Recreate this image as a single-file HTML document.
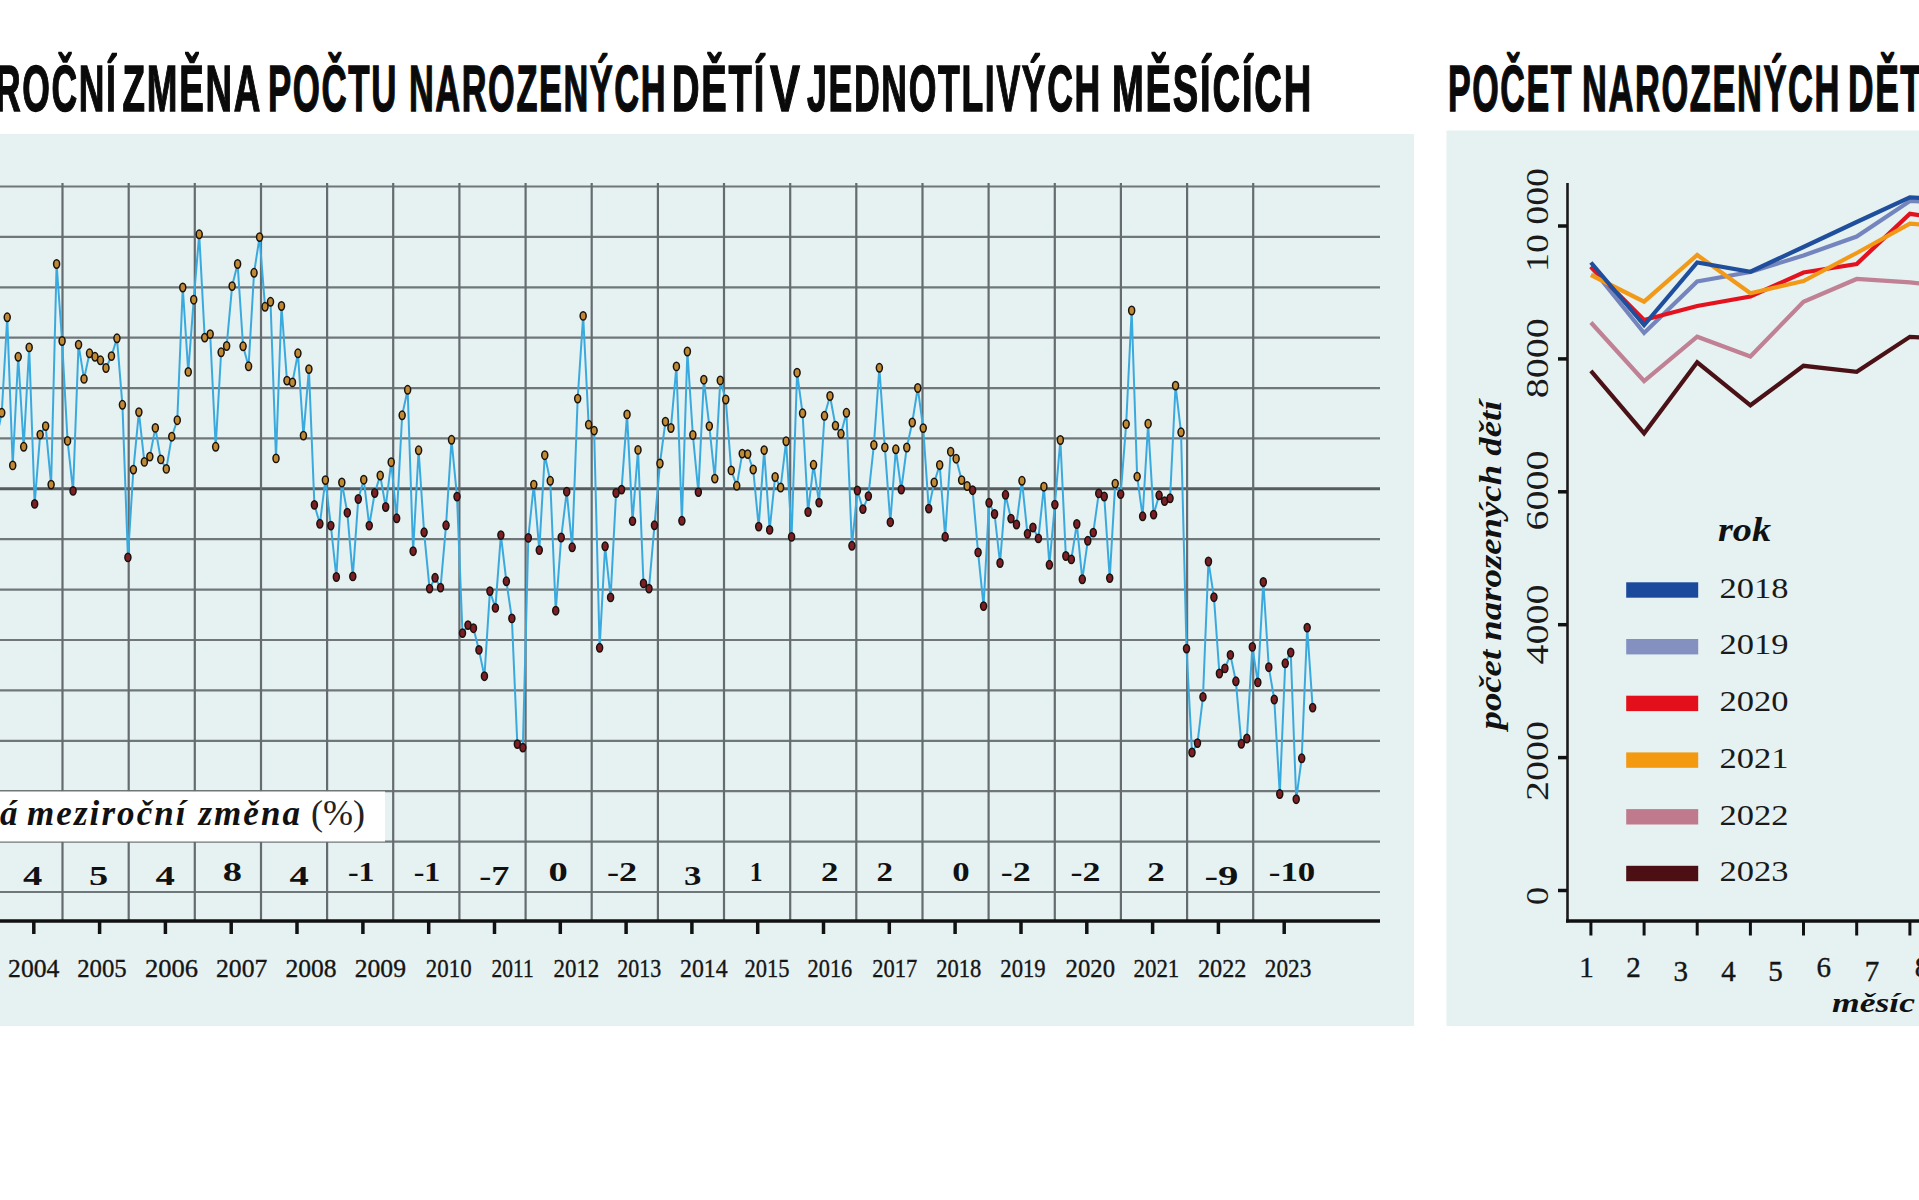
<!DOCTYPE html>
<html><head><meta charset="utf-8"><title>Počet narozených dětí</title>
<style>html,body{margin:0;padding:0;background:#fff;}body{width:1919px;height:1200px;overflow:hidden;font-family:"Liberation Sans",sans-serif;}svg{display:block;}</style>
</head><body>
<svg width="1919" height="1200" viewBox="0 0 1919 1200">
<rect width="1919" height="1200" fill="#ffffff"/>
<rect x="-5" y="134" width="1419" height="892" fill="#e6f1f2"/>
<rect x="1446.5" y="130.5" width="480" height="895.5" fill="#e6f1f2"/>
<line x1="-5" y1="186.5" x2="1380" y2="186.5" stroke="#6f777a" stroke-width="2.2"/><line x1="-5" y1="236.9" x2="1380" y2="236.9" stroke="#6f777a" stroke-width="2.2"/><line x1="-5" y1="287.3" x2="1380" y2="287.3" stroke="#6f777a" stroke-width="2.2"/><line x1="-5" y1="337.7" x2="1380" y2="337.7" stroke="#6f777a" stroke-width="2.2"/><line x1="-5" y1="388.1" x2="1380" y2="388.1" stroke="#6f777a" stroke-width="2.2"/><line x1="-5" y1="438.4" x2="1380" y2="438.4" stroke="#6f777a" stroke-width="2.2"/><line x1="-5" y1="488.8" x2="1380" y2="488.8" stroke="#555b5e" stroke-width="3"/><line x1="-5" y1="539.2" x2="1380" y2="539.2" stroke="#6f777a" stroke-width="2.2"/><line x1="-5" y1="589.6" x2="1380" y2="589.6" stroke="#6f777a" stroke-width="2.2"/><line x1="-5" y1="640.0" x2="1380" y2="640.0" stroke="#6f777a" stroke-width="2.2"/><line x1="-5" y1="690.4" x2="1380" y2="690.4" stroke="#6f777a" stroke-width="2.2"/><line x1="-5" y1="740.8" x2="1380" y2="740.8" stroke="#6f777a" stroke-width="2.2"/><line x1="-5" y1="791.2" x2="1380" y2="791.2" stroke="#6f777a" stroke-width="2.2"/><line x1="-5" y1="841.6" x2="1380" y2="841.6" stroke="#6f777a" stroke-width="2.2"/><line x1="-5" y1="892.0" x2="1380" y2="892.0" stroke="#6f777a" stroke-width="2.2"/><line x1="-3.7" y1="183" x2="-3.7" y2="921" stroke="#646c6f" stroke-width="2.2"/><line x1="62.5" y1="183" x2="62.5" y2="921" stroke="#646c6f" stroke-width="2.2"/><line x1="128.7" y1="183" x2="128.7" y2="921" stroke="#646c6f" stroke-width="2.2"/><line x1="194.8" y1="183" x2="194.8" y2="921" stroke="#646c6f" stroke-width="2.2"/><line x1="261.0" y1="183" x2="261.0" y2="921" stroke="#646c6f" stroke-width="2.2"/><line x1="327.1" y1="183" x2="327.1" y2="921" stroke="#646c6f" stroke-width="2.2"/><line x1="393.2" y1="183" x2="393.2" y2="921" stroke="#646c6f" stroke-width="2.2"/><line x1="459.4" y1="183" x2="459.4" y2="921" stroke="#646c6f" stroke-width="2.2"/><line x1="525.6" y1="183" x2="525.6" y2="921" stroke="#646c6f" stroke-width="2.2"/><line x1="591.7" y1="183" x2="591.7" y2="921" stroke="#646c6f" stroke-width="2.2"/><line x1="657.9" y1="183" x2="657.9" y2="921" stroke="#646c6f" stroke-width="2.2"/><line x1="724.0" y1="183" x2="724.0" y2="921" stroke="#646c6f" stroke-width="2.2"/><line x1="790.2" y1="183" x2="790.2" y2="921" stroke="#646c6f" stroke-width="2.2"/><line x1="856.3" y1="183" x2="856.3" y2="921" stroke="#646c6f" stroke-width="2.2"/><line x1="922.5" y1="183" x2="922.5" y2="921" stroke="#646c6f" stroke-width="2.2"/><line x1="988.6" y1="183" x2="988.6" y2="921" stroke="#646c6f" stroke-width="2.2"/><line x1="1054.8" y1="183" x2="1054.8" y2="921" stroke="#646c6f" stroke-width="2.2"/><line x1="1120.9" y1="183" x2="1120.9" y2="921" stroke="#646c6f" stroke-width="2.2"/><line x1="1187.1" y1="183" x2="1187.1" y2="921" stroke="#646c6f" stroke-width="2.2"/><line x1="1253.2" y1="183" x2="1253.2" y2="921" stroke="#646c6f" stroke-width="2.2"/>
<rect x="-5" y="791.5" width="390" height="50" fill="#ffffff"/>
<text x="17.5" y="825" text-anchor="end" font-family="Liberation Serif" font-weight="bold" font-style="italic" font-size="35" fill="#111">průměrná</text>
<text x="27" y="825" font-family="Liberation Serif" font-weight="bold" font-style="italic" font-size="35" fill="#111" textLength="273" lengthAdjust="spacing">meziroční změna</text>
<text x="311" y="825" font-family="Liberation Serif" font-size="35" fill="#222" textLength="54" lengthAdjust="spacingAndGlyphs">(%)</text>
<line x1="-5" y1="921" x2="1380" y2="921" stroke="#111" stroke-width="3.5"/>
<line x1="33.8" y1="921" x2="33.8" y2="934" stroke="#111" stroke-width="3.5"/><line x1="99.6" y1="921" x2="99.6" y2="934" stroke="#111" stroke-width="3.5"/><line x1="165.4" y1="921" x2="165.4" y2="934" stroke="#111" stroke-width="3.5"/><line x1="231.2" y1="921" x2="231.2" y2="934" stroke="#111" stroke-width="3.5"/><line x1="297.0" y1="921" x2="297.0" y2="934" stroke="#111" stroke-width="3.5"/><line x1="362.9" y1="921" x2="362.9" y2="934" stroke="#111" stroke-width="3.5"/><line x1="428.7" y1="921" x2="428.7" y2="934" stroke="#111" stroke-width="3.5"/><line x1="494.5" y1="921" x2="494.5" y2="934" stroke="#111" stroke-width="3.5"/><line x1="560.3" y1="921" x2="560.3" y2="934" stroke="#111" stroke-width="3.5"/><line x1="626.1" y1="921" x2="626.1" y2="934" stroke="#111" stroke-width="3.5"/><line x1="691.9" y1="921" x2="691.9" y2="934" stroke="#111" stroke-width="3.5"/><line x1="757.7" y1="921" x2="757.7" y2="934" stroke="#111" stroke-width="3.5"/><line x1="823.5" y1="921" x2="823.5" y2="934" stroke="#111" stroke-width="3.5"/><line x1="889.3" y1="921" x2="889.3" y2="934" stroke="#111" stroke-width="3.5"/><line x1="955.1" y1="921" x2="955.1" y2="934" stroke="#111" stroke-width="3.5"/><line x1="1021.0" y1="921" x2="1021.0" y2="934" stroke="#111" stroke-width="3.5"/><line x1="1086.8" y1="921" x2="1086.8" y2="934" stroke="#111" stroke-width="3.5"/><line x1="1152.6" y1="921" x2="1152.6" y2="934" stroke="#111" stroke-width="3.5"/><line x1="1218.4" y1="921" x2="1218.4" y2="934" stroke="#111" stroke-width="3.5"/><line x1="1284.2" y1="921" x2="1284.2" y2="934" stroke="#111" stroke-width="3.5"/>
<text x="23.1" y="884.5" font-family="Liberation Serif" font-weight="bold" font-size="28" fill="#111" textLength="19.3" lengthAdjust="spacingAndGlyphs">4</text><text x="88.9" y="884.5" font-family="Liberation Serif" font-weight="bold" font-size="28" fill="#111" textLength="19.2" lengthAdjust="spacingAndGlyphs">5</text><text x="155.6" y="884.5" font-family="Liberation Serif" font-weight="bold" font-size="28" fill="#111" textLength="19.4" lengthAdjust="spacingAndGlyphs">4</text><text x="222.8" y="881" font-family="Liberation Serif" font-weight="bold" font-size="28" fill="#111" textLength="19.2" lengthAdjust="spacingAndGlyphs">8</text><text x="289.6" y="884.5" font-family="Liberation Serif" font-weight="bold" font-size="28" fill="#111" textLength="19.3" lengthAdjust="spacingAndGlyphs">4</text><text x="347.9" y="881" font-family="Liberation Serif" font-weight="bold" font-size="28" fill="#111" textLength="26.6" lengthAdjust="spacingAndGlyphs">-1</text><text x="413.7" y="881" font-family="Liberation Serif" font-weight="bold" font-size="28" fill="#111" textLength="26.6" lengthAdjust="spacingAndGlyphs">-1</text><text x="479.3" y="884.5" font-family="Liberation Serif" font-weight="bold" font-size="28" fill="#111" textLength="30.2" lengthAdjust="spacingAndGlyphs">-7</text><text x="548.6" y="881" font-family="Liberation Serif" font-weight="bold" font-size="28" fill="#111" textLength="19.3" lengthAdjust="spacingAndGlyphs">0</text><text x="606.9" y="881" font-family="Liberation Serif" font-weight="bold" font-size="28" fill="#111" textLength="30.2" lengthAdjust="spacingAndGlyphs">-2</text><text x="684.1" y="884.5" font-family="Liberation Serif" font-weight="bold" font-size="28" fill="#111" textLength="17.4" lengthAdjust="spacingAndGlyphs">3</text><text x="749.8" y="881" font-family="Liberation Serif" font-weight="bold" font-size="28" fill="#111" textLength="12.8" lengthAdjust="spacingAndGlyphs">1</text><text x="820.9" y="881" font-family="Liberation Serif" font-weight="bold" font-size="28" fill="#111" textLength="17.4" lengthAdjust="spacingAndGlyphs">2</text><text x="876.5" y="881" font-family="Liberation Serif" font-weight="bold" font-size="28" fill="#111" textLength="16.5" lengthAdjust="spacingAndGlyphs">2</text><text x="952.2" y="881" font-family="Liberation Serif" font-weight="bold" font-size="28" fill="#111" textLength="17.4" lengthAdjust="spacingAndGlyphs">0</text><text x="1000.7" y="881" font-family="Liberation Serif" font-weight="bold" font-size="28" fill="#111" textLength="30.0" lengthAdjust="spacingAndGlyphs">-2</text><text x="1070.5" y="881" font-family="Liberation Serif" font-weight="bold" font-size="28" fill="#111" textLength="30.0" lengthAdjust="spacingAndGlyphs">-2</text><text x="1147.2" y="881" font-family="Liberation Serif" font-weight="bold" font-size="28" fill="#111" textLength="17.5" lengthAdjust="spacingAndGlyphs">2</text><text x="1204.5" y="884.5" font-family="Liberation Serif" font-weight="bold" font-size="28" fill="#111" textLength="34.0" lengthAdjust="spacingAndGlyphs">-9</text><text x="1268.8" y="881" font-family="Liberation Serif" font-weight="bold" font-size="28" fill="#111" textLength="46.5" lengthAdjust="spacingAndGlyphs">-10</text>
<text x="8.1" y="977" font-family="Liberation Serif" font-size="25" fill="#151515" stroke="#151515" stroke-width="0.35" textLength="51.3" lengthAdjust="spacingAndGlyphs">2004</text><text x="77.2" y="977" font-family="Liberation Serif" font-size="25" fill="#151515" stroke="#151515" stroke-width="0.35" textLength="49.5" lengthAdjust="spacingAndGlyphs">2005</text><text x="144.9" y="977" font-family="Liberation Serif" font-size="25" fill="#151515" stroke="#151515" stroke-width="0.35" textLength="53.1" lengthAdjust="spacingAndGlyphs">2006</text><text x="216.0" y="977" font-family="Liberation Serif" font-size="25" fill="#151515" stroke="#151515" stroke-width="0.35" textLength="51.3" lengthAdjust="spacingAndGlyphs">2007</text><text x="285.4" y="977" font-family="Liberation Serif" font-size="25" fill="#151515" stroke="#151515" stroke-width="0.35" textLength="51.2" lengthAdjust="spacingAndGlyphs">2008</text><text x="354.7" y="977" font-family="Liberation Serif" font-size="25" fill="#151515" stroke="#151515" stroke-width="0.35" textLength="51.3" lengthAdjust="spacingAndGlyphs">2009</text><text x="425.8" y="977" font-family="Liberation Serif" font-size="25" fill="#151515" stroke="#151515" stroke-width="0.35" textLength="45.8" lengthAdjust="spacingAndGlyphs">2010</text><text x="491.6" y="977" font-family="Liberation Serif" font-size="25" fill="#151515" stroke="#151515" stroke-width="0.35" textLength="42.1" lengthAdjust="spacingAndGlyphs">2011</text><text x="553.5" y="977" font-family="Liberation Serif" font-size="25" fill="#151515" stroke="#151515" stroke-width="0.35" textLength="45.8" lengthAdjust="spacingAndGlyphs">2012</text><text x="617.3" y="977" font-family="Liberation Serif" font-size="25" fill="#151515" stroke="#151515" stroke-width="0.35" textLength="43.9" lengthAdjust="spacingAndGlyphs">2013</text><text x="680.0" y="977" font-family="Liberation Serif" font-size="25" fill="#151515" stroke="#151515" stroke-width="0.35" textLength="47.6" lengthAdjust="spacingAndGlyphs">2014</text><text x="744.6" y="977" font-family="Liberation Serif" font-size="25" fill="#151515" stroke="#151515" stroke-width="0.35" textLength="45.0" lengthAdjust="spacingAndGlyphs">2015</text><text x="807.6" y="977" font-family="Liberation Serif" font-size="25" fill="#151515" stroke="#151515" stroke-width="0.35" textLength="44.7" lengthAdjust="spacingAndGlyphs">2016</text><text x="872.3" y="977" font-family="Liberation Serif" font-size="25" fill="#151515" stroke="#151515" stroke-width="0.35" textLength="45.0" lengthAdjust="spacingAndGlyphs">2017</text><text x="936.2" y="977" font-family="Liberation Serif" font-size="25" fill="#151515" stroke="#151515" stroke-width="0.35" textLength="45.1" lengthAdjust="spacingAndGlyphs">2018</text><text x="1000.3" y="977" font-family="Liberation Serif" font-size="25" fill="#151515" stroke="#151515" stroke-width="0.35" textLength="45.4" lengthAdjust="spacingAndGlyphs">2019</text><text x="1065.6" y="977" font-family="Liberation Serif" font-size="25" fill="#151515" stroke="#151515" stroke-width="0.35" textLength="49.4" lengthAdjust="spacingAndGlyphs">2020</text><text x="1133.5" y="977" font-family="Liberation Serif" font-size="25" fill="#151515" stroke="#151515" stroke-width="0.35" textLength="45.8" lengthAdjust="spacingAndGlyphs">2021</text><text x="1198.0" y="977" font-family="Liberation Serif" font-size="25" fill="#151515" stroke="#151515" stroke-width="0.35" textLength="48.4" lengthAdjust="spacingAndGlyphs">2022</text><text x="1264.8" y="977" font-family="Liberation Serif" font-size="25" fill="#151515" stroke="#151515" stroke-width="0.35" textLength="46.5" lengthAdjust="spacingAndGlyphs">2023</text>
<polyline points="-3.7,440.0 1.75,412.8 7.24,317.3 12.72,465.4 18.21,356.8 23.69,446.8 29.18,347.4 34.66,503.9 40.15,434.6 45.63,426.1 51.12,484.6 56.60,264.0 62.09,341.0 67.57,440.9 73.06,490.9 78.54,344.6 84.03,378.9 89.51,353.3 95.00,356.8 100.48,360.3 105.97,368.0 111.45,356.1 116.94,338.3 122.42,404.8 127.91,557.4 133.39,469.6 138.88,412.1 144.36,461.9 149.84,456.6 155.33,427.9 160.81,459.4 166.30,468.9 171.78,436.7 177.27,420.2 182.76,287.5 188.24,371.9 193.73,299.7 199.21,234.3 204.70,337.6 210.18,334.1 215.67,446.8 221.15,352.3 226.64,346.0 232.12,286.1 237.61,264.0 243.09,346.3 248.58,366.3 254.06,272.8 259.55,237.1 265.03,306.8 270.52,301.8 276.00,458.4 281.49,306.0 286.97,380.6 292.46,382.4 297.94,353.3 303.43,435.6 308.91,369.1 314.40,504.9 319.88,523.8 325.37,480.1 330.85,525.6 336.34,577.0 341.82,482.5 347.31,512.7 352.79,576.4 358.28,499.0 363.76,479.7 369.25,525.6 374.73,493.0 380.22,475.5 385.70,507.0 391.19,462.2 396.67,518.3 402.16,415.3 407.64,389.8 413.12,551.2 418.61,450.3 424.10,532.3 429.58,588.6 435.06,577.8 440.55,587.6 446.04,525.3 451.52,439.8 457.01,496.6 462.49,633.1 467.98,625.1 473.46,628.2 478.95,649.9 484.43,676.2 489.92,591.1 495.40,607.9 500.89,535.1 506.37,581.3 511.86,618.4 517.34,744.1 522.83,747.6 528.31,537.9 533.80,484.6 539.28,550.1 544.76,455.2 550.25,480.8 555.74,610.7 561.22,537.5 566.71,491.7 572.19,547.3 577.68,398.6 583.16,315.9 588.64,424.6 594.13,430.6 599.62,647.8 605.10,546.3 610.59,597.4 616.07,493.0 621.56,489.6 627.04,414.4 632.53,521.1 638.01,449.9 643.50,583.4 648.98,588.6 654.47,525.3 659.95,463.5 665.44,421.6 670.92,428.0 676.41,366.4 681.89,520.8 687.38,351.5 692.86,435.0 698.35,492.1 703.83,379.7 709.32,426.1 714.80,478.6 720.29,380.4 725.77,399.5 731.25,470.4 736.74,485.8 742.23,453.6 747.71,454.1 753.20,469.5 758.68,526.6 764.17,450.1 769.65,529.9 775.13,477.0 780.62,487.5 786.11,441.3 791.59,536.9 797.08,372.7 802.56,413.3 808.05,512.0 813.53,464.8 819.02,502.6 824.50,415.8 829.99,396.0 835.47,425.6 840.96,433.8 846.44,412.8 851.93,545.8 857.41,490.5 862.90,509.1 868.38,496.1 873.87,445.0 879.35,367.8 884.84,447.4 890.32,522.2 895.81,449.3 901.29,489.5 906.78,447.5 912.26,422.5 917.75,388.0 923.23,428.1 928.72,508.6 934.20,482.5 939.69,465.0 945.17,536.8 950.66,451.7 956.14,458.7 961.62,480.1 967.11,486.0 972.60,490.2 978.08,552.4 983.57,606.1 989.05,502.8 994.54,514.0 1000.02,563.0 1005.51,494.8 1010.99,518.6 1016.48,524.5 1021.96,480.8 1027.45,533.8 1032.93,527.5 1038.41,538.4 1043.90,486.7 1049.38,564.8 1054.87,504.6 1060.36,440.0 1065.84,556.0 1071.33,559.4 1076.81,524.0 1082.30,579.3 1087.78,540.8 1093.27,532.6 1098.75,493.4 1104.24,496.5 1109.72,578.1 1115.21,483.6 1120.69,494.1 1126.17,424.1 1131.66,310.5 1137.14,476.6 1142.63,516.3 1148.12,423.7 1153.60,514.6 1159.09,495.3 1164.57,501.1 1170.06,498.3 1175.54,385.6 1181.03,432.3 1186.51,648.6 1192.00,752.5 1197.48,743.1 1202.97,696.9 1208.45,561.5 1213.94,597.2 1219.42,673.5 1224.90,668.4 1230.39,654.9 1235.88,681.3 1241.36,743.8 1246.85,738.5 1252.33,646.9 1257.82,682.4 1263.30,582.0 1268.79,667.2 1274.27,699.5 1279.76,794.0 1285.24,663.3 1290.73,652.5 1296.21,799.2 1301.70,758.3 1307.18,627.6 1312.66,707.6" fill="none" stroke="#3aaade" stroke-width="2.0" stroke-linejoin="round"/>
<ellipse cx="1.75" cy="412.8" rx="3.0" ry="4.2" fill="#c08a35" stroke="#1a120c" stroke-width="1.5"/><ellipse cx="7.24" cy="317.3" rx="3.0" ry="4.2" fill="#c08a35" stroke="#1a120c" stroke-width="1.5"/><ellipse cx="12.72" cy="465.4" rx="3.0" ry="4.2" fill="#c08a35" stroke="#1a120c" stroke-width="1.5"/><ellipse cx="18.21" cy="356.8" rx="3.0" ry="4.2" fill="#c08a35" stroke="#1a120c" stroke-width="1.5"/><ellipse cx="23.69" cy="446.8" rx="3.0" ry="4.2" fill="#c08a35" stroke="#1a120c" stroke-width="1.5"/><ellipse cx="29.18" cy="347.4" rx="3.0" ry="4.2" fill="#c08a35" stroke="#1a120c" stroke-width="1.5"/><ellipse cx="34.66" cy="503.9" rx="3.0" ry="4.2" fill="#7d1f27" stroke="#1a120c" stroke-width="1.5"/><ellipse cx="40.15" cy="434.6" rx="3.0" ry="4.2" fill="#c08a35" stroke="#1a120c" stroke-width="1.5"/><ellipse cx="45.63" cy="426.1" rx="3.0" ry="4.2" fill="#c08a35" stroke="#1a120c" stroke-width="1.5"/><ellipse cx="51.12" cy="484.6" rx="3.0" ry="4.2" fill="#c08a35" stroke="#1a120c" stroke-width="1.5"/><ellipse cx="56.60" cy="264.0" rx="3.0" ry="4.2" fill="#c08a35" stroke="#1a120c" stroke-width="1.5"/><ellipse cx="62.09" cy="341.0" rx="3.0" ry="4.2" fill="#c08a35" stroke="#1a120c" stroke-width="1.5"/><ellipse cx="67.57" cy="440.9" rx="3.0" ry="4.2" fill="#c08a35" stroke="#1a120c" stroke-width="1.5"/><ellipse cx="73.06" cy="490.9" rx="3.0" ry="4.2" fill="#7d1f27" stroke="#1a120c" stroke-width="1.5"/><ellipse cx="78.54" cy="344.6" rx="3.0" ry="4.2" fill="#c08a35" stroke="#1a120c" stroke-width="1.5"/><ellipse cx="84.03" cy="378.9" rx="3.0" ry="4.2" fill="#c08a35" stroke="#1a120c" stroke-width="1.5"/><ellipse cx="89.51" cy="353.3" rx="3.0" ry="4.2" fill="#c08a35" stroke="#1a120c" stroke-width="1.5"/><ellipse cx="95.00" cy="356.8" rx="3.0" ry="4.2" fill="#c08a35" stroke="#1a120c" stroke-width="1.5"/><ellipse cx="100.48" cy="360.3" rx="3.0" ry="4.2" fill="#c08a35" stroke="#1a120c" stroke-width="1.5"/><ellipse cx="105.97" cy="368.0" rx="3.0" ry="4.2" fill="#c08a35" stroke="#1a120c" stroke-width="1.5"/><ellipse cx="111.45" cy="356.1" rx="3.0" ry="4.2" fill="#c08a35" stroke="#1a120c" stroke-width="1.5"/><ellipse cx="116.94" cy="338.3" rx="3.0" ry="4.2" fill="#c08a35" stroke="#1a120c" stroke-width="1.5"/><ellipse cx="122.42" cy="404.8" rx="3.0" ry="4.2" fill="#c08a35" stroke="#1a120c" stroke-width="1.5"/><ellipse cx="127.91" cy="557.4" rx="3.0" ry="4.2" fill="#7d1f27" stroke="#1a120c" stroke-width="1.5"/><ellipse cx="133.39" cy="469.6" rx="3.0" ry="4.2" fill="#c08a35" stroke="#1a120c" stroke-width="1.5"/><ellipse cx="138.88" cy="412.1" rx="3.0" ry="4.2" fill="#c08a35" stroke="#1a120c" stroke-width="1.5"/><ellipse cx="144.36" cy="461.9" rx="3.0" ry="4.2" fill="#c08a35" stroke="#1a120c" stroke-width="1.5"/><ellipse cx="149.84" cy="456.6" rx="3.0" ry="4.2" fill="#c08a35" stroke="#1a120c" stroke-width="1.5"/><ellipse cx="155.33" cy="427.9" rx="3.0" ry="4.2" fill="#c08a35" stroke="#1a120c" stroke-width="1.5"/><ellipse cx="160.81" cy="459.4" rx="3.0" ry="4.2" fill="#c08a35" stroke="#1a120c" stroke-width="1.5"/><ellipse cx="166.30" cy="468.9" rx="3.0" ry="4.2" fill="#c08a35" stroke="#1a120c" stroke-width="1.5"/><ellipse cx="171.78" cy="436.7" rx="3.0" ry="4.2" fill="#c08a35" stroke="#1a120c" stroke-width="1.5"/><ellipse cx="177.27" cy="420.2" rx="3.0" ry="4.2" fill="#c08a35" stroke="#1a120c" stroke-width="1.5"/><ellipse cx="182.76" cy="287.5" rx="3.0" ry="4.2" fill="#c08a35" stroke="#1a120c" stroke-width="1.5"/><ellipse cx="188.24" cy="371.9" rx="3.0" ry="4.2" fill="#c08a35" stroke="#1a120c" stroke-width="1.5"/><ellipse cx="193.73" cy="299.7" rx="3.0" ry="4.2" fill="#c08a35" stroke="#1a120c" stroke-width="1.5"/><ellipse cx="199.21" cy="234.3" rx="3.0" ry="4.2" fill="#c08a35" stroke="#1a120c" stroke-width="1.5"/><ellipse cx="204.70" cy="337.6" rx="3.0" ry="4.2" fill="#c08a35" stroke="#1a120c" stroke-width="1.5"/><ellipse cx="210.18" cy="334.1" rx="3.0" ry="4.2" fill="#c08a35" stroke="#1a120c" stroke-width="1.5"/><ellipse cx="215.67" cy="446.8" rx="3.0" ry="4.2" fill="#c08a35" stroke="#1a120c" stroke-width="1.5"/><ellipse cx="221.15" cy="352.3" rx="3.0" ry="4.2" fill="#c08a35" stroke="#1a120c" stroke-width="1.5"/><ellipse cx="226.64" cy="346.0" rx="3.0" ry="4.2" fill="#c08a35" stroke="#1a120c" stroke-width="1.5"/><ellipse cx="232.12" cy="286.1" rx="3.0" ry="4.2" fill="#c08a35" stroke="#1a120c" stroke-width="1.5"/><ellipse cx="237.61" cy="264.0" rx="3.0" ry="4.2" fill="#c08a35" stroke="#1a120c" stroke-width="1.5"/><ellipse cx="243.09" cy="346.3" rx="3.0" ry="4.2" fill="#c08a35" stroke="#1a120c" stroke-width="1.5"/><ellipse cx="248.58" cy="366.3" rx="3.0" ry="4.2" fill="#c08a35" stroke="#1a120c" stroke-width="1.5"/><ellipse cx="254.06" cy="272.8" rx="3.0" ry="4.2" fill="#c08a35" stroke="#1a120c" stroke-width="1.5"/><ellipse cx="259.55" cy="237.1" rx="3.0" ry="4.2" fill="#c08a35" stroke="#1a120c" stroke-width="1.5"/><ellipse cx="265.03" cy="306.8" rx="3.0" ry="4.2" fill="#c08a35" stroke="#1a120c" stroke-width="1.5"/><ellipse cx="270.52" cy="301.8" rx="3.0" ry="4.2" fill="#c08a35" stroke="#1a120c" stroke-width="1.5"/><ellipse cx="276.00" cy="458.4" rx="3.0" ry="4.2" fill="#c08a35" stroke="#1a120c" stroke-width="1.5"/><ellipse cx="281.49" cy="306.0" rx="3.0" ry="4.2" fill="#c08a35" stroke="#1a120c" stroke-width="1.5"/><ellipse cx="286.97" cy="380.6" rx="3.0" ry="4.2" fill="#c08a35" stroke="#1a120c" stroke-width="1.5"/><ellipse cx="292.46" cy="382.4" rx="3.0" ry="4.2" fill="#c08a35" stroke="#1a120c" stroke-width="1.5"/><ellipse cx="297.94" cy="353.3" rx="3.0" ry="4.2" fill="#c08a35" stroke="#1a120c" stroke-width="1.5"/><ellipse cx="303.43" cy="435.6" rx="3.0" ry="4.2" fill="#c08a35" stroke="#1a120c" stroke-width="1.5"/><ellipse cx="308.91" cy="369.1" rx="3.0" ry="4.2" fill="#c08a35" stroke="#1a120c" stroke-width="1.5"/><ellipse cx="314.40" cy="504.9" rx="3.0" ry="4.2" fill="#7d1f27" stroke="#1a120c" stroke-width="1.5"/><ellipse cx="319.88" cy="523.8" rx="3.0" ry="4.2" fill="#7d1f27" stroke="#1a120c" stroke-width="1.5"/><ellipse cx="325.37" cy="480.1" rx="3.0" ry="4.2" fill="#c08a35" stroke="#1a120c" stroke-width="1.5"/><ellipse cx="330.85" cy="525.6" rx="3.0" ry="4.2" fill="#7d1f27" stroke="#1a120c" stroke-width="1.5"/><ellipse cx="336.34" cy="577.0" rx="3.0" ry="4.2" fill="#7d1f27" stroke="#1a120c" stroke-width="1.5"/><ellipse cx="341.82" cy="482.5" rx="3.0" ry="4.2" fill="#c08a35" stroke="#1a120c" stroke-width="1.5"/><ellipse cx="347.31" cy="512.7" rx="3.0" ry="4.2" fill="#7d1f27" stroke="#1a120c" stroke-width="1.5"/><ellipse cx="352.79" cy="576.4" rx="3.0" ry="4.2" fill="#7d1f27" stroke="#1a120c" stroke-width="1.5"/><ellipse cx="358.28" cy="499.0" rx="3.0" ry="4.2" fill="#7d1f27" stroke="#1a120c" stroke-width="1.5"/><ellipse cx="363.76" cy="479.7" rx="3.0" ry="4.2" fill="#c08a35" stroke="#1a120c" stroke-width="1.5"/><ellipse cx="369.25" cy="525.6" rx="3.0" ry="4.2" fill="#7d1f27" stroke="#1a120c" stroke-width="1.5"/><ellipse cx="374.73" cy="493.0" rx="3.0" ry="4.2" fill="#7d1f27" stroke="#1a120c" stroke-width="1.5"/><ellipse cx="380.22" cy="475.5" rx="3.0" ry="4.2" fill="#c08a35" stroke="#1a120c" stroke-width="1.5"/><ellipse cx="385.70" cy="507.0" rx="3.0" ry="4.2" fill="#7d1f27" stroke="#1a120c" stroke-width="1.5"/><ellipse cx="391.19" cy="462.2" rx="3.0" ry="4.2" fill="#c08a35" stroke="#1a120c" stroke-width="1.5"/><ellipse cx="396.67" cy="518.3" rx="3.0" ry="4.2" fill="#7d1f27" stroke="#1a120c" stroke-width="1.5"/><ellipse cx="402.16" cy="415.3" rx="3.0" ry="4.2" fill="#c08a35" stroke="#1a120c" stroke-width="1.5"/><ellipse cx="407.64" cy="389.8" rx="3.0" ry="4.2" fill="#c08a35" stroke="#1a120c" stroke-width="1.5"/><ellipse cx="413.12" cy="551.2" rx="3.0" ry="4.2" fill="#7d1f27" stroke="#1a120c" stroke-width="1.5"/><ellipse cx="418.61" cy="450.3" rx="3.0" ry="4.2" fill="#c08a35" stroke="#1a120c" stroke-width="1.5"/><ellipse cx="424.10" cy="532.3" rx="3.0" ry="4.2" fill="#7d1f27" stroke="#1a120c" stroke-width="1.5"/><ellipse cx="429.58" cy="588.6" rx="3.0" ry="4.2" fill="#7d1f27" stroke="#1a120c" stroke-width="1.5"/><ellipse cx="435.06" cy="577.8" rx="3.0" ry="4.2" fill="#7d1f27" stroke="#1a120c" stroke-width="1.5"/><ellipse cx="440.55" cy="587.6" rx="3.0" ry="4.2" fill="#7d1f27" stroke="#1a120c" stroke-width="1.5"/><ellipse cx="446.04" cy="525.3" rx="3.0" ry="4.2" fill="#7d1f27" stroke="#1a120c" stroke-width="1.5"/><ellipse cx="451.52" cy="439.8" rx="3.0" ry="4.2" fill="#c08a35" stroke="#1a120c" stroke-width="1.5"/><ellipse cx="457.01" cy="496.6" rx="3.0" ry="4.2" fill="#7d1f27" stroke="#1a120c" stroke-width="1.5"/><ellipse cx="462.49" cy="633.1" rx="3.0" ry="4.2" fill="#7d1f27" stroke="#1a120c" stroke-width="1.5"/><ellipse cx="467.98" cy="625.1" rx="3.0" ry="4.2" fill="#7d1f27" stroke="#1a120c" stroke-width="1.5"/><ellipse cx="473.46" cy="628.2" rx="3.0" ry="4.2" fill="#7d1f27" stroke="#1a120c" stroke-width="1.5"/><ellipse cx="478.95" cy="649.9" rx="3.0" ry="4.2" fill="#7d1f27" stroke="#1a120c" stroke-width="1.5"/><ellipse cx="484.43" cy="676.2" rx="3.0" ry="4.2" fill="#7d1f27" stroke="#1a120c" stroke-width="1.5"/><ellipse cx="489.92" cy="591.1" rx="3.0" ry="4.2" fill="#7d1f27" stroke="#1a120c" stroke-width="1.5"/><ellipse cx="495.40" cy="607.9" rx="3.0" ry="4.2" fill="#7d1f27" stroke="#1a120c" stroke-width="1.5"/><ellipse cx="500.89" cy="535.1" rx="3.0" ry="4.2" fill="#7d1f27" stroke="#1a120c" stroke-width="1.5"/><ellipse cx="506.37" cy="581.3" rx="3.0" ry="4.2" fill="#7d1f27" stroke="#1a120c" stroke-width="1.5"/><ellipse cx="511.86" cy="618.4" rx="3.0" ry="4.2" fill="#7d1f27" stroke="#1a120c" stroke-width="1.5"/><ellipse cx="517.34" cy="744.1" rx="3.0" ry="4.2" fill="#7d1f27" stroke="#1a120c" stroke-width="1.5"/><ellipse cx="522.83" cy="747.6" rx="3.0" ry="4.2" fill="#7d1f27" stroke="#1a120c" stroke-width="1.5"/><ellipse cx="528.31" cy="537.9" rx="3.0" ry="4.2" fill="#7d1f27" stroke="#1a120c" stroke-width="1.5"/><ellipse cx="533.80" cy="484.6" rx="3.0" ry="4.2" fill="#c08a35" stroke="#1a120c" stroke-width="1.5"/><ellipse cx="539.28" cy="550.1" rx="3.0" ry="4.2" fill="#7d1f27" stroke="#1a120c" stroke-width="1.5"/><ellipse cx="544.76" cy="455.2" rx="3.0" ry="4.2" fill="#c08a35" stroke="#1a120c" stroke-width="1.5"/><ellipse cx="550.25" cy="480.8" rx="3.0" ry="4.2" fill="#c08a35" stroke="#1a120c" stroke-width="1.5"/><ellipse cx="555.74" cy="610.7" rx="3.0" ry="4.2" fill="#7d1f27" stroke="#1a120c" stroke-width="1.5"/><ellipse cx="561.22" cy="537.5" rx="3.0" ry="4.2" fill="#7d1f27" stroke="#1a120c" stroke-width="1.5"/><ellipse cx="566.71" cy="491.7" rx="3.0" ry="4.2" fill="#7d1f27" stroke="#1a120c" stroke-width="1.5"/><ellipse cx="572.19" cy="547.3" rx="3.0" ry="4.2" fill="#7d1f27" stroke="#1a120c" stroke-width="1.5"/><ellipse cx="577.68" cy="398.6" rx="3.0" ry="4.2" fill="#c08a35" stroke="#1a120c" stroke-width="1.5"/><ellipse cx="583.16" cy="315.9" rx="3.0" ry="4.2" fill="#c08a35" stroke="#1a120c" stroke-width="1.5"/><ellipse cx="588.64" cy="424.6" rx="3.0" ry="4.2" fill="#c08a35" stroke="#1a120c" stroke-width="1.5"/><ellipse cx="594.13" cy="430.6" rx="3.0" ry="4.2" fill="#c08a35" stroke="#1a120c" stroke-width="1.5"/><ellipse cx="599.62" cy="647.8" rx="3.0" ry="4.2" fill="#7d1f27" stroke="#1a120c" stroke-width="1.5"/><ellipse cx="605.10" cy="546.3" rx="3.0" ry="4.2" fill="#7d1f27" stroke="#1a120c" stroke-width="1.5"/><ellipse cx="610.59" cy="597.4" rx="3.0" ry="4.2" fill="#7d1f27" stroke="#1a120c" stroke-width="1.5"/><ellipse cx="616.07" cy="493.0" rx="3.0" ry="4.2" fill="#7d1f27" stroke="#1a120c" stroke-width="1.5"/><ellipse cx="621.56" cy="489.6" rx="3.0" ry="4.2" fill="#7d1f27" stroke="#1a120c" stroke-width="1.5"/><ellipse cx="627.04" cy="414.4" rx="3.0" ry="4.2" fill="#c08a35" stroke="#1a120c" stroke-width="1.5"/><ellipse cx="632.53" cy="521.1" rx="3.0" ry="4.2" fill="#7d1f27" stroke="#1a120c" stroke-width="1.5"/><ellipse cx="638.01" cy="449.9" rx="3.0" ry="4.2" fill="#c08a35" stroke="#1a120c" stroke-width="1.5"/><ellipse cx="643.50" cy="583.4" rx="3.0" ry="4.2" fill="#7d1f27" stroke="#1a120c" stroke-width="1.5"/><ellipse cx="648.98" cy="588.6" rx="3.0" ry="4.2" fill="#7d1f27" stroke="#1a120c" stroke-width="1.5"/><ellipse cx="654.47" cy="525.3" rx="3.0" ry="4.2" fill="#7d1f27" stroke="#1a120c" stroke-width="1.5"/><ellipse cx="659.95" cy="463.5" rx="3.0" ry="4.2" fill="#c08a35" stroke="#1a120c" stroke-width="1.5"/><ellipse cx="665.44" cy="421.6" rx="3.0" ry="4.2" fill="#c08a35" stroke="#1a120c" stroke-width="1.5"/><ellipse cx="670.92" cy="428.0" rx="3.0" ry="4.2" fill="#c08a35" stroke="#1a120c" stroke-width="1.5"/><ellipse cx="676.41" cy="366.4" rx="3.0" ry="4.2" fill="#c08a35" stroke="#1a120c" stroke-width="1.5"/><ellipse cx="681.89" cy="520.8" rx="3.0" ry="4.2" fill="#7d1f27" stroke="#1a120c" stroke-width="1.5"/><ellipse cx="687.38" cy="351.5" rx="3.0" ry="4.2" fill="#c08a35" stroke="#1a120c" stroke-width="1.5"/><ellipse cx="692.86" cy="435.0" rx="3.0" ry="4.2" fill="#c08a35" stroke="#1a120c" stroke-width="1.5"/><ellipse cx="698.35" cy="492.1" rx="3.0" ry="4.2" fill="#7d1f27" stroke="#1a120c" stroke-width="1.5"/><ellipse cx="703.83" cy="379.7" rx="3.0" ry="4.2" fill="#c08a35" stroke="#1a120c" stroke-width="1.5"/><ellipse cx="709.32" cy="426.1" rx="3.0" ry="4.2" fill="#c08a35" stroke="#1a120c" stroke-width="1.5"/><ellipse cx="714.80" cy="478.6" rx="3.0" ry="4.2" fill="#c08a35" stroke="#1a120c" stroke-width="1.5"/><ellipse cx="720.29" cy="380.4" rx="3.0" ry="4.2" fill="#c08a35" stroke="#1a120c" stroke-width="1.5"/><ellipse cx="725.77" cy="399.5" rx="3.0" ry="4.2" fill="#c08a35" stroke="#1a120c" stroke-width="1.5"/><ellipse cx="731.25" cy="470.4" rx="3.0" ry="4.2" fill="#c08a35" stroke="#1a120c" stroke-width="1.5"/><ellipse cx="736.74" cy="485.8" rx="3.0" ry="4.2" fill="#c08a35" stroke="#1a120c" stroke-width="1.5"/><ellipse cx="742.23" cy="453.6" rx="3.0" ry="4.2" fill="#c08a35" stroke="#1a120c" stroke-width="1.5"/><ellipse cx="747.71" cy="454.1" rx="3.0" ry="4.2" fill="#c08a35" stroke="#1a120c" stroke-width="1.5"/><ellipse cx="753.20" cy="469.5" rx="3.0" ry="4.2" fill="#c08a35" stroke="#1a120c" stroke-width="1.5"/><ellipse cx="758.68" cy="526.6" rx="3.0" ry="4.2" fill="#7d1f27" stroke="#1a120c" stroke-width="1.5"/><ellipse cx="764.17" cy="450.1" rx="3.0" ry="4.2" fill="#c08a35" stroke="#1a120c" stroke-width="1.5"/><ellipse cx="769.65" cy="529.9" rx="3.0" ry="4.2" fill="#7d1f27" stroke="#1a120c" stroke-width="1.5"/><ellipse cx="775.13" cy="477.0" rx="3.0" ry="4.2" fill="#c08a35" stroke="#1a120c" stroke-width="1.5"/><ellipse cx="780.62" cy="487.5" rx="3.0" ry="4.2" fill="#c08a35" stroke="#1a120c" stroke-width="1.5"/><ellipse cx="786.11" cy="441.3" rx="3.0" ry="4.2" fill="#c08a35" stroke="#1a120c" stroke-width="1.5"/><ellipse cx="791.59" cy="536.9" rx="3.0" ry="4.2" fill="#7d1f27" stroke="#1a120c" stroke-width="1.5"/><ellipse cx="797.08" cy="372.7" rx="3.0" ry="4.2" fill="#c08a35" stroke="#1a120c" stroke-width="1.5"/><ellipse cx="802.56" cy="413.3" rx="3.0" ry="4.2" fill="#c08a35" stroke="#1a120c" stroke-width="1.5"/><ellipse cx="808.05" cy="512.0" rx="3.0" ry="4.2" fill="#7d1f27" stroke="#1a120c" stroke-width="1.5"/><ellipse cx="813.53" cy="464.8" rx="3.0" ry="4.2" fill="#c08a35" stroke="#1a120c" stroke-width="1.5"/><ellipse cx="819.02" cy="502.6" rx="3.0" ry="4.2" fill="#7d1f27" stroke="#1a120c" stroke-width="1.5"/><ellipse cx="824.50" cy="415.8" rx="3.0" ry="4.2" fill="#c08a35" stroke="#1a120c" stroke-width="1.5"/><ellipse cx="829.99" cy="396.0" rx="3.0" ry="4.2" fill="#c08a35" stroke="#1a120c" stroke-width="1.5"/><ellipse cx="835.47" cy="425.6" rx="3.0" ry="4.2" fill="#c08a35" stroke="#1a120c" stroke-width="1.5"/><ellipse cx="840.96" cy="433.8" rx="3.0" ry="4.2" fill="#c08a35" stroke="#1a120c" stroke-width="1.5"/><ellipse cx="846.44" cy="412.8" rx="3.0" ry="4.2" fill="#c08a35" stroke="#1a120c" stroke-width="1.5"/><ellipse cx="851.93" cy="545.8" rx="3.0" ry="4.2" fill="#7d1f27" stroke="#1a120c" stroke-width="1.5"/><ellipse cx="857.41" cy="490.5" rx="3.0" ry="4.2" fill="#7d1f27" stroke="#1a120c" stroke-width="1.5"/><ellipse cx="862.90" cy="509.1" rx="3.0" ry="4.2" fill="#7d1f27" stroke="#1a120c" stroke-width="1.5"/><ellipse cx="868.38" cy="496.1" rx="3.0" ry="4.2" fill="#7d1f27" stroke="#1a120c" stroke-width="1.5"/><ellipse cx="873.87" cy="445.0" rx="3.0" ry="4.2" fill="#c08a35" stroke="#1a120c" stroke-width="1.5"/><ellipse cx="879.35" cy="367.8" rx="3.0" ry="4.2" fill="#c08a35" stroke="#1a120c" stroke-width="1.5"/><ellipse cx="884.84" cy="447.4" rx="3.0" ry="4.2" fill="#c08a35" stroke="#1a120c" stroke-width="1.5"/><ellipse cx="890.32" cy="522.2" rx="3.0" ry="4.2" fill="#7d1f27" stroke="#1a120c" stroke-width="1.5"/><ellipse cx="895.81" cy="449.3" rx="3.0" ry="4.2" fill="#c08a35" stroke="#1a120c" stroke-width="1.5"/><ellipse cx="901.29" cy="489.5" rx="3.0" ry="4.2" fill="#7d1f27" stroke="#1a120c" stroke-width="1.5"/><ellipse cx="906.78" cy="447.5" rx="3.0" ry="4.2" fill="#c08a35" stroke="#1a120c" stroke-width="1.5"/><ellipse cx="912.26" cy="422.5" rx="3.0" ry="4.2" fill="#c08a35" stroke="#1a120c" stroke-width="1.5"/><ellipse cx="917.75" cy="388.0" rx="3.0" ry="4.2" fill="#c08a35" stroke="#1a120c" stroke-width="1.5"/><ellipse cx="923.23" cy="428.1" rx="3.0" ry="4.2" fill="#c08a35" stroke="#1a120c" stroke-width="1.5"/><ellipse cx="928.72" cy="508.6" rx="3.0" ry="4.2" fill="#7d1f27" stroke="#1a120c" stroke-width="1.5"/><ellipse cx="934.20" cy="482.5" rx="3.0" ry="4.2" fill="#c08a35" stroke="#1a120c" stroke-width="1.5"/><ellipse cx="939.69" cy="465.0" rx="3.0" ry="4.2" fill="#c08a35" stroke="#1a120c" stroke-width="1.5"/><ellipse cx="945.17" cy="536.8" rx="3.0" ry="4.2" fill="#7d1f27" stroke="#1a120c" stroke-width="1.5"/><ellipse cx="950.66" cy="451.7" rx="3.0" ry="4.2" fill="#c08a35" stroke="#1a120c" stroke-width="1.5"/><ellipse cx="956.14" cy="458.7" rx="3.0" ry="4.2" fill="#c08a35" stroke="#1a120c" stroke-width="1.5"/><ellipse cx="961.62" cy="480.1" rx="3.0" ry="4.2" fill="#c08a35" stroke="#1a120c" stroke-width="1.5"/><ellipse cx="967.11" cy="486.0" rx="3.0" ry="4.2" fill="#c08a35" stroke="#1a120c" stroke-width="1.5"/><ellipse cx="972.60" cy="490.2" rx="3.0" ry="4.2" fill="#7d1f27" stroke="#1a120c" stroke-width="1.5"/><ellipse cx="978.08" cy="552.4" rx="3.0" ry="4.2" fill="#7d1f27" stroke="#1a120c" stroke-width="1.5"/><ellipse cx="983.57" cy="606.1" rx="3.0" ry="4.2" fill="#7d1f27" stroke="#1a120c" stroke-width="1.5"/><ellipse cx="989.05" cy="502.8" rx="3.0" ry="4.2" fill="#7d1f27" stroke="#1a120c" stroke-width="1.5"/><ellipse cx="994.54" cy="514.0" rx="3.0" ry="4.2" fill="#7d1f27" stroke="#1a120c" stroke-width="1.5"/><ellipse cx="1000.02" cy="563.0" rx="3.0" ry="4.2" fill="#7d1f27" stroke="#1a120c" stroke-width="1.5"/><ellipse cx="1005.51" cy="494.8" rx="3.0" ry="4.2" fill="#7d1f27" stroke="#1a120c" stroke-width="1.5"/><ellipse cx="1010.99" cy="518.6" rx="3.0" ry="4.2" fill="#7d1f27" stroke="#1a120c" stroke-width="1.5"/><ellipse cx="1016.48" cy="524.5" rx="3.0" ry="4.2" fill="#7d1f27" stroke="#1a120c" stroke-width="1.5"/><ellipse cx="1021.96" cy="480.8" rx="3.0" ry="4.2" fill="#c08a35" stroke="#1a120c" stroke-width="1.5"/><ellipse cx="1027.45" cy="533.8" rx="3.0" ry="4.2" fill="#7d1f27" stroke="#1a120c" stroke-width="1.5"/><ellipse cx="1032.93" cy="527.5" rx="3.0" ry="4.2" fill="#7d1f27" stroke="#1a120c" stroke-width="1.5"/><ellipse cx="1038.41" cy="538.4" rx="3.0" ry="4.2" fill="#7d1f27" stroke="#1a120c" stroke-width="1.5"/><ellipse cx="1043.90" cy="486.7" rx="3.0" ry="4.2" fill="#c08a35" stroke="#1a120c" stroke-width="1.5"/><ellipse cx="1049.38" cy="564.8" rx="3.0" ry="4.2" fill="#7d1f27" stroke="#1a120c" stroke-width="1.5"/><ellipse cx="1054.87" cy="504.6" rx="3.0" ry="4.2" fill="#7d1f27" stroke="#1a120c" stroke-width="1.5"/><ellipse cx="1060.36" cy="440.0" rx="3.0" ry="4.2" fill="#c08a35" stroke="#1a120c" stroke-width="1.5"/><ellipse cx="1065.84" cy="556.0" rx="3.0" ry="4.2" fill="#7d1f27" stroke="#1a120c" stroke-width="1.5"/><ellipse cx="1071.33" cy="559.4" rx="3.0" ry="4.2" fill="#7d1f27" stroke="#1a120c" stroke-width="1.5"/><ellipse cx="1076.81" cy="524.0" rx="3.0" ry="4.2" fill="#7d1f27" stroke="#1a120c" stroke-width="1.5"/><ellipse cx="1082.30" cy="579.3" rx="3.0" ry="4.2" fill="#7d1f27" stroke="#1a120c" stroke-width="1.5"/><ellipse cx="1087.78" cy="540.8" rx="3.0" ry="4.2" fill="#7d1f27" stroke="#1a120c" stroke-width="1.5"/><ellipse cx="1093.27" cy="532.6" rx="3.0" ry="4.2" fill="#7d1f27" stroke="#1a120c" stroke-width="1.5"/><ellipse cx="1098.75" cy="493.4" rx="3.0" ry="4.2" fill="#7d1f27" stroke="#1a120c" stroke-width="1.5"/><ellipse cx="1104.24" cy="496.5" rx="3.0" ry="4.2" fill="#7d1f27" stroke="#1a120c" stroke-width="1.5"/><ellipse cx="1109.72" cy="578.1" rx="3.0" ry="4.2" fill="#7d1f27" stroke="#1a120c" stroke-width="1.5"/><ellipse cx="1115.21" cy="483.6" rx="3.0" ry="4.2" fill="#c08a35" stroke="#1a120c" stroke-width="1.5"/><ellipse cx="1120.69" cy="494.1" rx="3.0" ry="4.2" fill="#7d1f27" stroke="#1a120c" stroke-width="1.5"/><ellipse cx="1126.17" cy="424.1" rx="3.0" ry="4.2" fill="#c08a35" stroke="#1a120c" stroke-width="1.5"/><ellipse cx="1131.66" cy="310.5" rx="3.0" ry="4.2" fill="#c08a35" stroke="#1a120c" stroke-width="1.5"/><ellipse cx="1137.14" cy="476.6" rx="3.0" ry="4.2" fill="#c08a35" stroke="#1a120c" stroke-width="1.5"/><ellipse cx="1142.63" cy="516.3" rx="3.0" ry="4.2" fill="#7d1f27" stroke="#1a120c" stroke-width="1.5"/><ellipse cx="1148.12" cy="423.7" rx="3.0" ry="4.2" fill="#c08a35" stroke="#1a120c" stroke-width="1.5"/><ellipse cx="1153.60" cy="514.6" rx="3.0" ry="4.2" fill="#7d1f27" stroke="#1a120c" stroke-width="1.5"/><ellipse cx="1159.09" cy="495.3" rx="3.0" ry="4.2" fill="#7d1f27" stroke="#1a120c" stroke-width="1.5"/><ellipse cx="1164.57" cy="501.1" rx="3.0" ry="4.2" fill="#7d1f27" stroke="#1a120c" stroke-width="1.5"/><ellipse cx="1170.06" cy="498.3" rx="3.0" ry="4.2" fill="#7d1f27" stroke="#1a120c" stroke-width="1.5"/><ellipse cx="1175.54" cy="385.6" rx="3.0" ry="4.2" fill="#c08a35" stroke="#1a120c" stroke-width="1.5"/><ellipse cx="1181.03" cy="432.3" rx="3.0" ry="4.2" fill="#c08a35" stroke="#1a120c" stroke-width="1.5"/><ellipse cx="1186.51" cy="648.6" rx="3.0" ry="4.2" fill="#7d1f27" stroke="#1a120c" stroke-width="1.5"/><ellipse cx="1192.00" cy="752.5" rx="3.0" ry="4.2" fill="#7d1f27" stroke="#1a120c" stroke-width="1.5"/><ellipse cx="1197.48" cy="743.1" rx="3.0" ry="4.2" fill="#7d1f27" stroke="#1a120c" stroke-width="1.5"/><ellipse cx="1202.97" cy="696.9" rx="3.0" ry="4.2" fill="#7d1f27" stroke="#1a120c" stroke-width="1.5"/><ellipse cx="1208.45" cy="561.5" rx="3.0" ry="4.2" fill="#7d1f27" stroke="#1a120c" stroke-width="1.5"/><ellipse cx="1213.94" cy="597.2" rx="3.0" ry="4.2" fill="#7d1f27" stroke="#1a120c" stroke-width="1.5"/><ellipse cx="1219.42" cy="673.5" rx="3.0" ry="4.2" fill="#7d1f27" stroke="#1a120c" stroke-width="1.5"/><ellipse cx="1224.90" cy="668.4" rx="3.0" ry="4.2" fill="#7d1f27" stroke="#1a120c" stroke-width="1.5"/><ellipse cx="1230.39" cy="654.9" rx="3.0" ry="4.2" fill="#7d1f27" stroke="#1a120c" stroke-width="1.5"/><ellipse cx="1235.88" cy="681.3" rx="3.0" ry="4.2" fill="#7d1f27" stroke="#1a120c" stroke-width="1.5"/><ellipse cx="1241.36" cy="743.8" rx="3.0" ry="4.2" fill="#7d1f27" stroke="#1a120c" stroke-width="1.5"/><ellipse cx="1246.85" cy="738.5" rx="3.0" ry="4.2" fill="#7d1f27" stroke="#1a120c" stroke-width="1.5"/><ellipse cx="1252.33" cy="646.9" rx="3.0" ry="4.2" fill="#7d1f27" stroke="#1a120c" stroke-width="1.5"/><ellipse cx="1257.82" cy="682.4" rx="3.0" ry="4.2" fill="#7d1f27" stroke="#1a120c" stroke-width="1.5"/><ellipse cx="1263.30" cy="582.0" rx="3.0" ry="4.2" fill="#7d1f27" stroke="#1a120c" stroke-width="1.5"/><ellipse cx="1268.79" cy="667.2" rx="3.0" ry="4.2" fill="#7d1f27" stroke="#1a120c" stroke-width="1.5"/><ellipse cx="1274.27" cy="699.5" rx="3.0" ry="4.2" fill="#7d1f27" stroke="#1a120c" stroke-width="1.5"/><ellipse cx="1279.76" cy="794.0" rx="3.0" ry="4.2" fill="#7d1f27" stroke="#1a120c" stroke-width="1.5"/><ellipse cx="1285.24" cy="663.3" rx="3.0" ry="4.2" fill="#7d1f27" stroke="#1a120c" stroke-width="1.5"/><ellipse cx="1290.73" cy="652.5" rx="3.0" ry="4.2" fill="#7d1f27" stroke="#1a120c" stroke-width="1.5"/><ellipse cx="1296.21" cy="799.2" rx="3.0" ry="4.2" fill="#7d1f27" stroke="#1a120c" stroke-width="1.5"/><ellipse cx="1301.70" cy="758.3" rx="3.0" ry="4.2" fill="#7d1f27" stroke="#1a120c" stroke-width="1.5"/><ellipse cx="1307.18" cy="627.6" rx="3.0" ry="4.2" fill="#7d1f27" stroke="#1a120c" stroke-width="1.5"/><ellipse cx="1312.66" cy="707.6" rx="3.0" ry="4.2" fill="#7d1f27" stroke="#1a120c" stroke-width="1.5"/>
<line x1="1567.5" y1="183" x2="1567.5" y2="922.5" stroke="#1a1a1a" stroke-width="2.6"/>
<line x1="1566" y1="921" x2="1930" y2="921" stroke="#111" stroke-width="3.5"/>
<line x1="1558" y1="890.5" x2="1567" y2="890.5" stroke="#111" stroke-width="3.5"/><line x1="1558" y1="757.6" x2="1567" y2="757.6" stroke="#111" stroke-width="3.5"/><line x1="1558" y1="624.7" x2="1567" y2="624.7" stroke="#111" stroke-width="3.5"/><line x1="1558" y1="491.8" x2="1567" y2="491.8" stroke="#111" stroke-width="3.5"/><line x1="1558" y1="358.9" x2="1567" y2="358.9" stroke="#111" stroke-width="3.5"/><line x1="1558" y1="226.0" x2="1567" y2="226.0" stroke="#111" stroke-width="3.5"/><line x1="1590.9" y1="921" x2="1590.9" y2="935.5" stroke="#111" stroke-width="3"/><line x1="1644.1" y1="921" x2="1644.1" y2="935.5" stroke="#111" stroke-width="3"/><line x1="1697.2" y1="921" x2="1697.2" y2="935.5" stroke="#111" stroke-width="3"/><line x1="1750.4" y1="921" x2="1750.4" y2="935.5" stroke="#111" stroke-width="3"/><line x1="1803.5" y1="921" x2="1803.5" y2="935.5" stroke="#111" stroke-width="3"/><line x1="1856.7" y1="921" x2="1856.7" y2="935.5" stroke="#111" stroke-width="3"/><line x1="1909.9" y1="921" x2="1909.9" y2="935.5" stroke="#111" stroke-width="3"/><line x1="1963.0" y1="921" x2="1963.0" y2="935.5" stroke="#111" stroke-width="3"/>
<text transform="translate(1548,896.0) rotate(-90)" text-anchor="middle" font-family="Liberation Serif" font-size="32" fill="#1a1a1a" textLength="18" lengthAdjust="spacingAndGlyphs">0</text><text transform="translate(1548,761.0) rotate(-90)" text-anchor="middle" font-family="Liberation Serif" font-size="32" fill="#1a1a1a" textLength="80" lengthAdjust="spacingAndGlyphs">2000</text><text transform="translate(1548,624.5) rotate(-90)" text-anchor="middle" font-family="Liberation Serif" font-size="32" fill="#1a1a1a" textLength="80" lengthAdjust="spacingAndGlyphs">4000</text><text transform="translate(1548,490.5) rotate(-90)" text-anchor="middle" font-family="Liberation Serif" font-size="32" fill="#1a1a1a" textLength="80" lengthAdjust="spacingAndGlyphs">6000</text><text transform="translate(1548,358.3) rotate(-90)" text-anchor="middle" font-family="Liberation Serif" font-size="32" fill="#1a1a1a" textLength="80" lengthAdjust="spacingAndGlyphs">8000</text><text transform="translate(1548,220.0) rotate(-90)" text-anchor="middle" font-family="Liberation Serif" font-size="32" fill="#1a1a1a" textLength="104" lengthAdjust="spacingAndGlyphs">10 000</text>
<text transform="translate(1500.5,729.5) rotate(-90)" font-family="Liberation Serif" font-weight="bold" font-style="italic" font-size="32" fill="#111" textLength="329" lengthAdjust="spacingAndGlyphs">počet narozených dětí</text>
<text x="1586.6" y="977" text-anchor="middle" font-family="Liberation Serif" font-size="29" fill="#151515" stroke="#151515" stroke-width="0.4">1</text><text x="1633.5" y="977" text-anchor="middle" font-family="Liberation Serif" font-size="29" fill="#151515" stroke="#151515" stroke-width="0.4">2</text><text x="1680.7" y="981" text-anchor="middle" font-family="Liberation Serif" font-size="29" fill="#151515" stroke="#151515" stroke-width="0.4">3</text><text x="1728.4" y="981" text-anchor="middle" font-family="Liberation Serif" font-size="29" fill="#151515" stroke="#151515" stroke-width="0.4">4</text><text x="1775.6" y="981" text-anchor="middle" font-family="Liberation Serif" font-size="29" fill="#151515" stroke="#151515" stroke-width="0.4">5</text><text x="1823.8" y="977" text-anchor="middle" font-family="Liberation Serif" font-size="29" fill="#151515" stroke="#151515" stroke-width="0.4">6</text><text x="1872.0" y="981" text-anchor="middle" font-family="Liberation Serif" font-size="29" fill="#151515" stroke="#151515" stroke-width="0.4">7</text><text x="1922.0" y="977" text-anchor="middle" font-family="Liberation Serif" font-size="29" fill="#151515" stroke="#151515" stroke-width="0.4">8</text>
<text x="1832" y="1012" font-family="Liberation Serif" font-weight="bold" font-style="italic" font-size="28" fill="#111" textLength="83" lengthAdjust="spacingAndGlyphs">měsíc</text>
<polyline points="1590.9,267.0 1644.1,333.0 1697.2,281.5 1750.4,272.0 1803.5,255.5 1856.7,236.5 1909.9,201.0 1963.0,203.0" fill="none" stroke="#7485bd" stroke-width="4.2" stroke-linejoin="miter"/><polyline points="1590.9,266.5 1644.1,320.0 1697.2,306.0 1750.4,296.5 1803.5,272.5 1856.7,264.0 1909.9,213.8 1963.0,221.0" fill="none" stroke="#e3121e" stroke-width="4.2" stroke-linejoin="miter"/><polyline points="1590.9,275.0 1644.1,301.7 1697.2,255.0 1750.4,293.3 1803.5,281.0 1856.7,253.0 1909.9,223.7 1963.0,228.0" fill="none" stroke="#f29a18" stroke-width="4.2" stroke-linejoin="miter"/><polyline points="1590.9,262.5 1644.1,325.0 1697.2,262.5 1750.4,271.7 1803.5,247.0 1856.7,222.0 1909.9,197.4 1963.0,200.0" fill="none" stroke="#1f4e9c" stroke-width="4.2" stroke-linejoin="miter"/><polyline points="1590.9,322.5 1644.1,381.0 1697.2,336.7 1750.4,356.5 1803.5,301.7 1856.7,279.0 1909.9,282.4 1963.0,288.0" fill="none" stroke="#bf8193" stroke-width="4.2" stroke-linejoin="miter"/><polyline points="1590.9,370.8 1644.1,433.3 1697.2,362.3 1750.4,405.3 1803.5,365.8 1856.7,371.8 1909.9,336.8 1963.0,340.0" fill="none" stroke="#4a1217" stroke-width="4.2" stroke-linejoin="miter"/>
<text x="1718" y="541" font-family="Liberation Serif" font-weight="bold" font-style="italic" font-size="34" fill="#111" textLength="53" lengthAdjust="spacingAndGlyphs">rok</text><rect x="1626.2" y="582.3" width="72" height="15.4" fill="#1b4a9c"/><text x="1719.4" y="597.7" font-family="Liberation Serif" font-size="30" fill="#1a1a1a" textLength="69" lengthAdjust="spacingAndGlyphs">2018</text><rect x="1626.2" y="639.0" width="72" height="15.4" fill="#8490c0"/><text x="1719.4" y="654.4" font-family="Liberation Serif" font-size="30" fill="#1a1a1a" textLength="69" lengthAdjust="spacingAndGlyphs">2019</text><rect x="1626.2" y="695.7" width="72" height="15.4" fill="#e3101b"/><text x="1719.4" y="711.1" font-family="Liberation Serif" font-size="30" fill="#1a1a1a" textLength="69" lengthAdjust="spacingAndGlyphs">2020</text><rect x="1626.2" y="752.4" width="72" height="15.4" fill="#f39a10"/><text x="1719.4" y="767.8" font-family="Liberation Serif" font-size="30" fill="#1a1a1a" textLength="69" lengthAdjust="spacingAndGlyphs">2021</text><rect x="1626.2" y="809.1" width="72" height="15.4" fill="#c07a8e"/><text x="1719.4" y="824.5" font-family="Liberation Serif" font-size="30" fill="#1a1a1a" textLength="69" lengthAdjust="spacingAndGlyphs">2022</text><rect x="1626.2" y="865.8" width="72" height="15.4" fill="#4c1014"/><text x="1719.4" y="881.2" font-family="Liberation Serif" font-size="30" fill="#1a1a1a" textLength="69" lengthAdjust="spacingAndGlyphs">2023</text>
<text x="-130" y="111" font-family="Liberation Sans" font-weight="bold" font-size="65" fill="#0a0a0a" textLength="115" lengthAdjust="spacingAndGlyphs">MEZI</text><text x="-5.0" y="110.6" font-family="Liberation Sans" font-weight="bold" font-size="65" fill="#0a0a0a" stroke="#0a0a0a" stroke-width="1.4" letter-spacing="3" textLength="122.6" lengthAdjust="spacingAndGlyphs">ROČNÍ</text><text x="122.6" y="110.6" font-family="Liberation Sans" font-weight="bold" font-size="65" fill="#0a0a0a" stroke="#0a0a0a" stroke-width="1.4" letter-spacing="3" textLength="139.4" lengthAdjust="spacingAndGlyphs">ZMĚNA</text><text x="268.0" y="110.6" font-family="Liberation Sans" font-weight="bold" font-size="65" fill="#0a0a0a" stroke="#0a0a0a" stroke-width="1.4" letter-spacing="3" textLength="130.0" lengthAdjust="spacingAndGlyphs">POČTU</text><text x="409.0" y="110.6" font-family="Liberation Sans" font-weight="bold" font-size="65" fill="#0a0a0a" stroke="#0a0a0a" stroke-width="1.4" letter-spacing="3" textLength="258.0" lengthAdjust="spacingAndGlyphs">NAROZENÝCH</text><text x="672.0" y="110.6" font-family="Liberation Sans" font-weight="bold" font-size="65" fill="#0a0a0a" stroke="#0a0a0a" stroke-width="1.4" letter-spacing="3" textLength="94.0" lengthAdjust="spacingAndGlyphs">DĚTÍ</text><text x="770.0" y="110.6" font-family="Liberation Sans" font-weight="bold" font-size="65" fill="#0a0a0a" stroke="#0a0a0a" stroke-width="1.4" letter-spacing="3" textLength="32.0" lengthAdjust="spacingAndGlyphs">V</text><text x="807.0" y="110.6" font-family="Liberation Sans" font-weight="bold" font-size="65" fill="#0a0a0a" stroke="#0a0a0a" stroke-width="1.4" letter-spacing="3" textLength="295.0" lengthAdjust="spacingAndGlyphs">JEDNOTLIVÝCH</text><text x="1112.0" y="110.6" font-family="Liberation Sans" font-weight="bold" font-size="65" fill="#0a0a0a" stroke="#0a0a0a" stroke-width="1.4" letter-spacing="3" textLength="201.0" lengthAdjust="spacingAndGlyphs">MĚSÍCÍCH</text><text x="1448.0" y="110.6" font-family="Liberation Sans" font-weight="bold" font-size="65" fill="#0a0a0a" stroke="#0a0a0a" stroke-width="1.4" letter-spacing="3" textLength="125.0" lengthAdjust="spacingAndGlyphs">POČET</text><text x="1582.0" y="110.6" font-family="Liberation Sans" font-weight="bold" font-size="65" fill="#0a0a0a" stroke="#0a0a0a" stroke-width="1.4" letter-spacing="3" textLength="259.0" lengthAdjust="spacingAndGlyphs">NAROZENÝCH</text><text x="1848.0" y="110.6" font-family="Liberation Sans" font-weight="bold" font-size="65" fill="#0a0a0a" stroke="#0a0a0a" stroke-width="1.4" letter-spacing="3" textLength="87.0" lengthAdjust="spacingAndGlyphs">DĚTÍ</text>
</svg>
</body></html>
